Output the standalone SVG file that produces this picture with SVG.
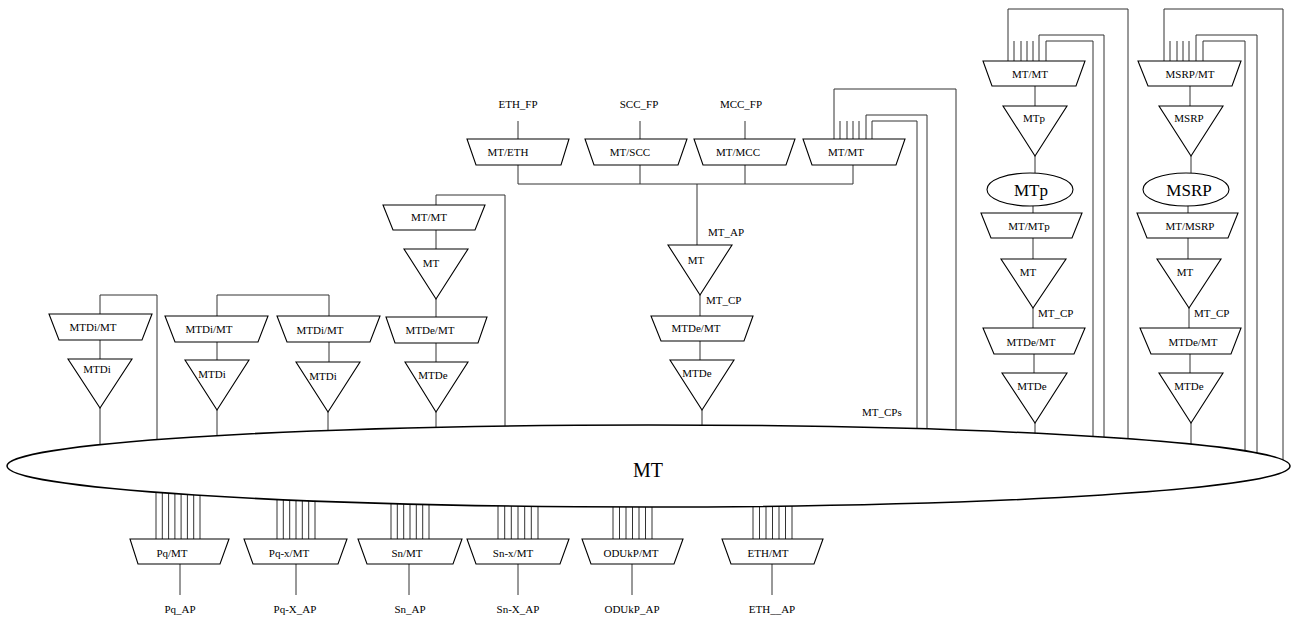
<svg xmlns="http://www.w3.org/2000/svg" width="1291" height="618" viewBox="0 0 1291 618">
<style>
.s{fill:#fff;stroke:#000;stroke-width:1.1}
.c{fill:none;stroke:#333;stroke-width:1}
text{font-family:"Liberation Serif","Times New Roman",serif;font-size:11px;fill:#000;text-anchor:middle}
.big{font-size:20px}
.mid{font-size:17px}
.lbl{text-anchor:start}
</style>
<rect width="1291" height="618" fill="#fff"/>
<g id="connectors" class="c">
<path d="M518,121V139M640,121V139M745,121V139"/>
<path d="M518,165V184M640,165V184M745,165V184M853,165V184M518,184H853M697,184V245"/>
<path d="M700,295V316M700,341V360M702,410V472"/>
<path d="M834,139V89H956V472M866,139V115H927V472M872,139V121H917V472"/>
<path d="M840,121V139M847,121V139M853,121V139M859,121V139"/>
<path d="M436,205V195H505V472M436,230V249M436,299V317M436,343V362M436,412V472"/>
<path d="M100,314V295H157V472M100,340V359M100,408V472"/>
<path d="M217,316V295H329V316M217,342V360M217,410V472M329,342V362M328,412V472"/>
<path d="M1008,61V9H1128V472M1039,61V35H1104V472M1046,61V41H1093V472"/>
<path d="M1014,41V61M1021,41V61M1027,41V61M1033,41V61"/>
<path d="M1035,86V106M1035,156V173M1033,206V213M1033,238V259M1033,308V328M1034,354V373M1035,423V472"/>
<path d="M1164,61V9H1283V472M1196,61V35H1257V472M1203,61V41H1245V472"/>
<path d="M1170,41V61M1177,41V61M1183,41V61M1189,41V61"/>
<path d="M1190,86V106M1191,156V173M1188,206V213M1188,238V259M1189,308V328M1190,354V373M1191,423V472"/>
<path d="M156,470V539M162.3,470V539M168.6,470V539M174.9,470V539M181.1,470V539M187.4,470V539M193.7,470V539M200,470V539"/>
<path d="M277,470V539M283.3,470V539M289.7,470V539M296,470V539M302.3,470V539M308.7,470V539M315,470V539"/>
<path d="M391,470V539M397.3,470V539M403.7,470V539M410,470V539M416.3,470V539M422.7,470V539M429,470V539"/>
<path d="M498,470V539M504.7,470V539M511.3,470V539M518,470V539M524.7,470V539M531.3,470V539M538,470V539"/>
<path d="M613,470V539M619.5,470V539M626,470V539M632.5,470V539M639,470V539M645.5,470V539M652,470V539"/>
<path d="M753,470V539M759.5,470V539M766,470V539M772.5,470V539M779,470V539M785.5,470V539M792,470V539"/>
<path d="M180,564V595M296,564V595M409,564V595M518,564V595M632,564V595M772,564V595"/>
</g>
<g id="labels">
<text x="518" y="108">ETH_FP</text>
<text x="639" y="108">SCC_FP</text>
<text x="741" y="108">MCC_FP</text>
<text class="lbl" x="708" y="236">MT_AP</text>
<text class="lbl" x="706" y="304">MT_CP</text>
<text class="lbl" x="862" y="416">MT_CPs</text>
<text class="lbl" x="1038" y="317">MT_CP</text>
<text class="lbl" x="1194" y="317">MT_CP</text>
<text x="180" y="613">Pq_AP</text>
<text x="295" y="613">Pq-X_AP</text>
<text x="410" y="613">Sn_AP</text>
<text x="518" y="613">Sn-X_AP</text>
<text x="632" y="613">ODUkP_AP</text>
<text x="772" y="613">ETH__AP</text>
</g>
<g id="MT-ellipse"><ellipse class="s" cx="648.5" cy="466" rx="641.5" ry="41" style="stroke-width:1.5"/><text class="big" x="648" y="477">MT</text></g>
<g id="MT-ETH"><polygon class="s" points="467,139 569,139 561,165 476,165"/><text x="508" y="156">MT/ETH</text></g>
<g id="MT-SCC"><polygon class="s" points="585,139 687,139 678,165 594,165"/><text x="630" y="156">MT/SCC</text></g>
<g id="MT-MCC"><polygon class="s" points="694,139 795,139 786,165 703,165"/><text x="738" y="156">MT/MCC</text></g>
<g id="MT-MT-top"><polygon class="s" points="803,139 905,139 896,165 812,165"/><text x="846" y="156">MT/MT</text></g>
<g id="MT-center"><polygon class="s" points="668,245 732,245 700,295"/><text x="696" y="264">MT</text></g>
<g id="MTDeMT-center"><polygon class="s" points="651,316 753,316 744,341 661,341"/><text x="696" y="332">MTDe/MT</text></g>
<g id="MTDe-center"><polygon class="s" points="670,360 734,360 702,410"/><text x="697" y="377">MTDe</text></g>
<g id="MT-MT-left"><polygon class="s" points="383,205 485,205 475,230 393,230"/><text x="429" y="221">MT/MT</text></g>
<g id="MT-left"><polygon class="s" points="404,249 468,249 436,299"/><text x="431" y="267">MT</text></g>
<g id="MTDeMT-left"><polygon class="s" points="386,317 487,317 478,343 395,343"/><text x="430" y="334">MTDe/MT</text></g>
<g id="MTDe-left"><polygon class="s" points="405,362 468,362 436,412"/><text x="433" y="379">MTDe</text></g>
<g id="MTDiMT-1"><polygon class="s" points="49,314 152,314 142,340 59,340"/><text x="93" y="331">MTDi/MT</text></g>
<g id="MTDi-1"><polygon class="s" points="68,359 132,359 100,408"/><text x="97" y="373">MTDi</text></g>
<g id="MTDiMT-2"><polygon class="s" points="165,316 268,316 258,342 175,342"/><text x="209" y="333">MTDi/MT</text></g>
<g id="MTDi-2"><polygon class="s" points="185,360 249,360 217,410"/><text x="212" y="378">MTDi</text></g>
<g id="MTDiMT-3"><polygon class="s" points="277,316 380,316 370,342 287,342"/><text x="320" y="334">MTDi/MT</text></g>
<g id="MTDi-3"><polygon class="s" points="296,362 360,362 328,412"/><text x="323" y="380">MTDi</text></g>
<g id="MT-MT-right"><polygon class="s" points="983,61 1085,61 1076,86 992,86"/><text x="1030" y="78">MT/MT</text></g>
<g id="MTp-tri"><polygon class="s" points="1003,106 1067,106 1035,156"/><text x="1034" y="122">MTp</text></g>
<g id="MTp-ellipse"><ellipse class="s" cx="1030" cy="189.5" rx="43" ry="16.5"/><text class="mid" x="1031" y="196">MTp</text></g>
<g id="MT-MTp"><polygon class="s" points="981,213 1082,213 1072,238 991,238"/><text x="1029" y="230">MT/MTp</text></g>
<g id="MT-rightA"><polygon class="s" points="1001,259 1066,259 1033,308"/><text x="1028" y="276">MT</text></g>
<g id="MTDeMT-rightA"><polygon class="s" points="983,328 1085,328 1074,354 994,354"/><text x="1031" y="346">MTDe/MT</text></g>
<g id="MTDe-rightA"><polygon class="s" points="1002,373 1067,373 1035,423"/><text x="1032" y="390">MTDe</text></g>
<g id="MSRP-MT"><polygon class="s" points="1138,61 1241,61 1232,86 1148,86"/><text x="1190" y="78">MSRP/MT</text></g>
<g id="MSRP-tri"><polygon class="s" points="1159,106 1223,106 1191,156"/><text x="1189" y="122">MSRP</text></g>
<g id="MSRP-ellipse"><ellipse class="s" cx="1186" cy="189.5" rx="43" ry="16.5"/><text class="mid" x="1189" y="196">MSRP</text></g>
<g id="MT-MSRP"><polygon class="s" points="1137,213 1238,213 1228,238 1147,238"/><text x="1190" y="230">MT/MSRP</text></g>
<g id="MT-rightB"><polygon class="s" points="1157,259 1221,259 1189,308"/><text x="1185" y="276">MT</text></g>
<g id="MTDeMT-rightB"><polygon class="s" points="1140,328 1241,328 1231,354 1151,354"/><text x="1193" y="346">MTDe/MT</text></g>
<g id="MTDe-rightB"><polygon class="s" points="1159,373 1223,373 1191,423"/><text x="1189" y="390">MTDe</text></g>
<g id="PqMT"><polygon class="s" points="130,539 229,539 220,564 138,564"/><text x="172" y="557">Pq/MT</text></g>
<g id="PqxMT"><polygon class="s" points="244,539 347,539 338,564 253,564"/><text x="289" y="557">Pq-x/MT</text></g>
<g id="SnMT"><polygon class="s" points="358,539 462,539 453,564 367,564"/><text x="407" y="557">Sn/MT</text></g>
<g id="SnxMT"><polygon class="s" points="467,539 569,539 560,564 476,564"/><text x="513" y="557">Sn-x/MT</text></g>
<g id="ODUkPMT"><polygon class="s" points="582,539 683,539 674,564 591,564"/><text x="631" y="557">ODUkP/MT</text></g>
<g id="ETHMT"><polygon class="s" points="722,539 823,539 814,564 731,564"/><text x="768" y="557">ETH/MT</text></g>
</svg>
